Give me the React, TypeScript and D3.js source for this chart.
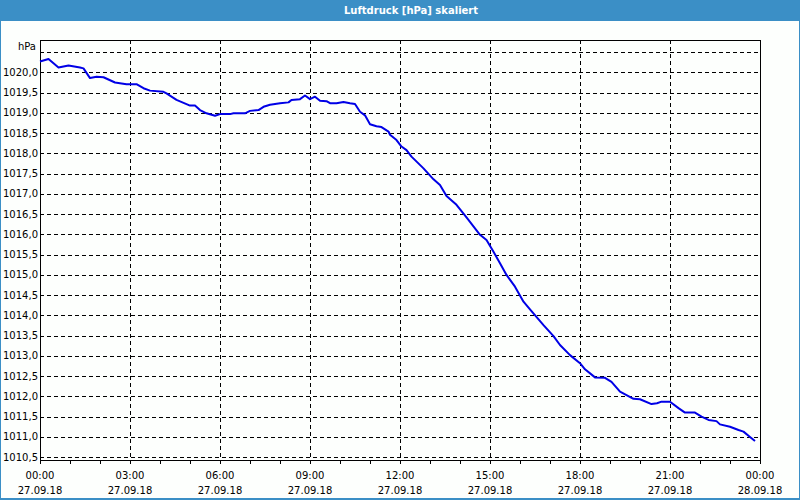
import * as d3 from 'd3';
import { useEffect, useRef } from 'react';

const width = 800;
const height = 500;

// minutes after 27.09.18 00:00
const minutes = [
  0, 17, 37, 57, 80, 87, 100, 113, 127, 150, 173, 193, 207, 220, 247, 253, 273, 300, 310, 320,
  333, 350, 360, 380, 387, 410, 420, 437, 447, 460, 480, 497, 503, 520, 530, 540, 550, 560, 573,
  580, 593, 607, 620, 630, 640, 650, 660, 673, 683, 697, 700, 713, 723, 733, 743, 767, 787, 800,
  813, 833, 853, 880, 893, 907, 920, 933, 950, 967, 980, 1007, 1027, 1040, 1060, 1080, 1090, 1110,
  1130, 1143, 1160, 1187, 1200, 1223, 1234, 1243, 1260, 1277, 1290, 1310, 1323, 1337, 1353, 1360,
  1380, 1397, 1407, 1420, 1430,
];

// hPa
const pressure = [
  1020.27, 1020.33, 1020.12, 1020.17, 1020.12, 1020.1, 1019.86, 1019.89, 1019.88, 1019.75,
  1019.71, 1019.71, 1019.61, 1019.55, 1019.52, 1019.48, 1019.32, 1019.18, 1019.18, 1019.07,
  1018.99, 1018.93, 1018.97, 1018.97, 1018.99, 1018.99, 1019.05, 1019.07, 1019.15, 1019.2,
  1019.24, 1019.26, 1019.32, 1019.34, 1019.43, 1019.34, 1019.4, 1019.3, 1019.29, 1019.24,
  1019.24, 1019.27, 1019.24, 1019.22, 1019.03, 1018.94, 1018.72, 1018.67, 1018.65, 1018.54,
  1018.46, 1018.33, 1018.17, 1018.08, 1017.92, 1017.63, 1017.36, 1017.22, 1016.95, 1016.73,
  1016.42, 1015.99, 1015.86, 1015.57, 1015.29, 1015.0, 1014.71, 1014.34, 1014.15, 1013.76,
  1013.49, 1013.27, 1013.02, 1012.82, 1012.67, 1012.47, 1012.46, 1012.36, 1012.12, 1011.94,
  1011.93, 1011.81, 1011.83, 1011.87, 1011.87, 1011.71, 1011.6, 1011.6, 1011.5, 1011.42,
  1011.39, 1011.31, 1011.25, 1011.17, 1011.13, 1011.0, 1010.9,
];

const yTicks = [
  1010.5, 1011, 1011.5, 1012, 1012.5, 1013, 1013.5, 1014, 1014.5, 1015, 1015.5, 1016, 1016.5,
  1017, 1017.5, 1018, 1018.5, 1019, 1019.5, 1020, 1020.5,
];
const xTickHours = [0, 3, 6, 9, 12, 15, 18, 21, 24];

const title = 'Luftdruck [hPa] skaliert';
const unit = 'hPa';

export default function App() {
  const containerRef = useRef<HTMLDivElement>(null);

  useEffect(() => {
    containerRef.current.innerHTML = '';
    const margin = { top: 40, right: 40, bottom: 40, left: 40 };
    const font = '"DejaVu Sans", Verdana, sans-serif';
    const barColor = '#3b8fc6';

    const start = new Date(2018, 8, 27, 0, 0);
    const end = new Date(2018, 8, 28, 0, 0);
    const x = d3.scaleTime().domain([start, end]).range([margin.left, width - margin.right]);
    const y = d3.scaleLinear().domain([1010.43, 1020.8]).range([height - margin.bottom, margin.top]);

    const data = minutes.map((m, i) => ({ date: d3.timeMinute.offset(start, m), value: pressure[i] }));

    const svg = d3
      .select(containerRef.current)
      .append('svg')
      .attr('width', width)
      .attr('height', height)
      .attr('viewBox', [0, 0, width, height])
      .style('position', 'absolute')
      .style('left', 0)
      .style('top', 0)
      .style('font-family', font);

    // window frame
    svg.append('rect').attr('width', width).attr('height', height).attr('fill', barColor);
    svg
      .append('rect')
      .attr('x', 1)
      .attr('y', 21)
      .attr('width', width - 2)
      .attr('height', height - 23)
      .attr('fill', '#fdfffd');

    svg
      .append('text')
      .attr('x', 411)
      .attr('y', 14)
      .attr('text-anchor', 'middle')
      .attr('fill', '#fff')
      .attr('font-weight', 'bold')
      .attr('font-size', 10)
      .text(title);

    const x0 = margin.left;
    const x1 = width - margin.right;
    const y0 = margin.top;
    const y1 = height - margin.bottom;

    // grid
    const grid = svg
      .append('g')
      .attr('stroke', '#000')
      .attr('stroke-width', 1)
      .attr('stroke-dasharray', '4,3')
      .attr('shape-rendering', 'crispEdges');

    grid
      .selectAll('line.h')
      .data(yTicks)
      .join('line')
      .attr('class', 'h')
      .attr('x1', x0)
      .attr('x2', x1)
      .attr('y1', (d) => Math.round(y(d)) + 0.5)
      .attr('y2', (d) => Math.round(y(d)) + 0.5);

    grid
      .selectAll('line.v')
      .data(xTickHours.slice(1, -1))
      .join('line')
      .attr('class', 'v')
      .attr('x1', (h) => Math.round(x(d3.timeHour.offset(start, h))) + 0.5)
      .attr('x2', (h) => Math.round(x(d3.timeHour.offset(start, h))) + 0.5)
      .attr('y1', y0)
      .attr('y2', y1);

    // minor hour ticks under the axis
    svg
      .append('g')
      .attr('stroke', '#000')
      .attr('shape-rendering', 'crispEdges')
      .selectAll('line')
      .data(d3.range(0, 25))
      .join('line')
      .attr('x1', (h) => Math.round(x(d3.timeHour.offset(start, h))) + 0.5)
      .attr('x2', (h) => Math.round(x(d3.timeHour.offset(start, h))) + 0.5)
      .attr('y1', y1)
      .attr('y2', y1 + 4);

    // plot frame
    svg
      .append('rect')
      .attr('x', x0 + 0.5)
      .attr('y', y0 + 0.5)
      .attr('width', x1 - x0)
      .attr('height', y1 - y0)
      .attr('fill', 'none')
      .attr('stroke', '#000')
      .attr('shape-rendering', 'crispEdges');

    // y labels
    const fmt = (v: number) => v.toFixed(1).replace('.', ',');
    svg
      .append('g')
      .attr('font-size', 10)
      .attr('fill', '#000')
      .attr('text-anchor', 'end')
      .selectAll('text')
      .data(yTicks.slice(0, -1))
      .join('text')
      .attr('x', x0 - 2)
      .attr('y', (d) => y(d))
      .attr('dy', '0.35em')
      .text(fmt);

    svg
      .append('text')
      .attr('x', x0 - 4)
      .attr('y', 50)
      .attr('text-anchor', 'end')
      .attr('font-size', 10)
      .text(unit);

    // x labels
    const timeFmt = d3.timeFormat('%H:%M');
    const dateFmt = d3.timeFormat('%d.%m.%y');
    const xLabels = svg
      .append('g')
      .attr('font-size', 10)
      .attr('text-anchor', 'middle')
      .selectAll('g')
      .data(xTickHours.map((h) => d3.timeHour.offset(start, h)))
      .join('g');
    xLabels
      .append('text')
      .attr('x', (d) => x(d))
      .attr('y', 479)
      .text((d) => timeFmt(d));
    xLabels
      .append('text')
      .attr('x', (d) => x(d))
      .attr('y', 494)
      .text((d) => dateFmt(d));

    // pressure line
    const line = d3
      .line<{ date: Date; value: number }>()
      .x((d) => x(d.date))
      .y((d) => y(d.value));

    svg
      .append('path')
      .datum(data)
      .attr('fill', 'none')
      .attr('stroke', '#0000e6')
      .attr('stroke-width', 2)
      .attr('stroke-linejoin', 'round')
      .attr('d', line);
  }, []);

  return <div ref={containerRef}></div>;
}
